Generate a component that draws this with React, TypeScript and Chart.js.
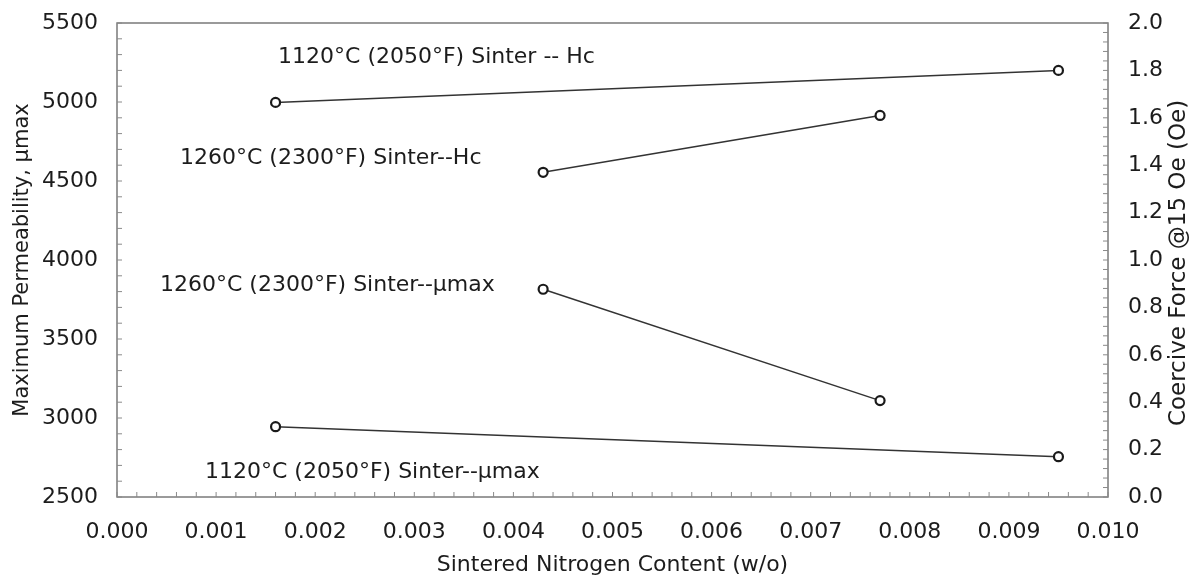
import React, { useEffect, useRef } from "react";
import { Chart, registerables } from "chart.js";

Chart.register(...registerables);

// ---- data ----
const nitrogen1120 = [0.0016, 0.0095];
const nitrogen1260 = [0.0043, 0.0077];
const hc1120 = [1.665, 1.8];
const hc1260 = [1.37, 1.61];
const mu1260 = [3815, 3110];
const mu1120 = [2945, 2755];

const xTicks = [0, 0.001, 0.002, 0.003, 0.004, 0.005, 0.006, 0.007, 0.008, 0.009, 0.01];
const leftTicks = [2500, 3000, 3500, 4000, 4500, 5000, 5500];
const rightTicks = [0, 0.2, 0.4, 0.6, 0.8, 1.0, 1.2, 1.4, 1.6, 1.8, 2.0];

const labelTexts = [
  "1120°C (2050°F) Sinter -- Hc",
  "1260°C (2300°F) Sinter--Hc",
  "1260°C (2300°F) Sinter--µmax",
  "1120°C (2050°F) Sinter--µmax",
];
// annotation anchors (x in w/o, y on left axis)
const labelX = [0.001625, 0.000636, 0.000434, 0.000888];
const labelY = [5285, 4646, 3842, 2658];

const rightTitle = "Coercive Force @15 Oe (Oe)";

const FONT = "'DejaVu Sans', 'Liberation Sans', Arial, sans-serif";
const TEXT = "#1c1c1c";

const zip = (xs: number[], ys: number[]) => xs.map((x, i) => ({ x, y: ys[i] }));

const noPad = (s: any) => {
  s.paddingTop = 0;
  s.paddingBottom = 0;
  s.paddingLeft = 0;
  s.paddingRight = 0;
};

const decorPlugin = {
  id: "decor",
  afterDatasetsDraw(chart: any) {
    const { ctx, chartArea: a, scales } = chart;
    ctx.save();
    // plot box
    ctx.strokeStyle = "#7a7a7a";
    ctx.lineWidth = 1.5;
    ctx.strokeRect(a.left, a.top, a.right - a.left, a.bottom - a.top);
    // inward minor ticks
    ctx.lineWidth = 1;
    ctx.strokeStyle = "#8a8a8a";
    const tl = 5;
    const x = scales.x;
    for (let i = 0; i <= 50; i++) {
      const px = x.getPixelForValue((x.max - x.min) * (i / 50) + x.min);
      ctx.beginPath();
      ctx.moveTo(px, a.bottom);
      ctx.lineTo(px, a.bottom - tl);
      ctx.stroke();
    }
    const y = scales.y;
    for (let i = 0; i <= 30; i++) {
      const py = y.getPixelForValue((y.max - y.min) * (i / 30) + y.min);
      ctx.beginPath();
      ctx.moveTo(a.left, py);
      ctx.lineTo(a.left + tl, py);
      ctx.stroke();
    }
    const y1 = scales.y1;
    for (let i = 0; i <= 50; i++) {
      const py = y1.getPixelForValue((y1.max - y1.min) * (i / 50) + y1.min);
      ctx.beginPath();
      ctx.moveTo(a.right, py);
      ctx.lineTo(a.right - tl, py);
      ctx.stroke();
    }
    // annotations
    ctx.fillStyle = TEXT;
    ctx.font = `22px ${FONT}`;
    ctx.textBaseline = "middle";
    ctx.textAlign = "left";
    labelTexts.forEach((t, i) => {
      ctx.fillText(t, x.getPixelForValue(labelX[i]), y.getPixelForValue(labelY[i]));
    });
    // right axis title (reads bottom-to-top)
    ctx.translate(y1.right - 8, (a.top + a.bottom) / 2 + 3);
    ctx.rotate(-Math.PI / 2);
    ctx.textAlign = "center";
    ctx.textBaseline = "alphabetic";
    ctx.font = `23px ${FONT}`;
    ctx.fillText(rightTitle, 0, 0);
    ctx.restore();
  },
};

export default function App() {
  const ref = useRef<HTMLCanvasElement | null>(null);
  useEffect(() => {
    if (!ref.current) return;
    const lineStyle = {
      borderColor: "#333",
      borderWidth: 1.5,
      pointRadius: 4.5,
      pointBorderWidth: 2.2,
      pointBackgroundColor: "#fff",
      pointBorderColor: "#1a1a1a",
      showLine: true,
      fill: false,
      tension: 0,
    };
    const chart = new Chart(ref.current, {
      type: "scatter",
      data: {
        datasets: [
          { label: labelTexts[0], data: zip(nitrogen1120, hc1120), yAxisID: "y1", ...lineStyle },
          { label: labelTexts[1], data: zip(nitrogen1260, hc1260), yAxisID: "y1", ...lineStyle },
          { label: labelTexts[2], data: zip(nitrogen1260, mu1260), yAxisID: "y", ...lineStyle },
          { label: labelTexts[3], data: zip(nitrogen1120, mu1120), yAxisID: "y", ...lineStyle },
        ],
      },
      options: {
        animation: false,
        responsive: true,
        maintainAspectRatio: false,
        layout: { padding: { top: 23, left: 0, right: 0, bottom: 0 } },
        plugins: { legend: { display: false }, tooltip: { enabled: false } },
        scales: {
          x: {
            type: "linear",
            min: 0,
            max: 0.01,
            afterBuildTicks: (s: any) => { s.ticks = xTicks.map((v) => ({ value: v })); },
            afterFit: (s: any) => { s.height = 82; noPad(s); },
            grid: { display: false, drawTicks: false },
            border: { display: false },
            ticks: {
              padding: 22,
              color: TEXT,
              font: { size: 22, family: FONT },
              callback: (v: any) => Number(v).toFixed(3),
              maxRotation: 0,
              autoSkip: false,
            },
            title: {
              display: true,
              text: "Sintered Nitrogen Content (w/o)",
              color: TEXT,
              font: { size: 22, family: FONT },
              padding: { top: 0, bottom: 1 },
            },
          },
          y: {
            type: "linear",
            position: "left",
            min: 2500,
            max: 5500,
            afterBuildTicks: (s: any) => { s.ticks = leftTicks.map((v) => ({ value: v })); },
            afterFit: (s: any) => { s.width = 117; noPad(s); },
            grid: { display: false, drawTicks: false },
            border: { display: false },
            ticks: {
              padding: 19,
              color: TEXT,
              font: { size: 22, family: FONT },
              callback: (v: any) => String(v),
              autoSkip: false,
            },
            title: {
              display: true,
              text: "Maximum Permeability, µmax",
              color: TEXT,
              font: { size: 21, family: FONT },
              padding: { top: 10, bottom: 0 },
            },
          },
          y1: {
            type: "linear",
            position: "right",
            min: 0,
            max: 2,
            afterBuildTicks: (s: any) => { s.ticks = rightTicks.map((v) => ({ value: v })); },
            afterFit: (s: any) => { s.width = 85; noPad(s); },
            grid: { display: false, drawTicks: false },
            border: { display: false },
            ticks: {
              padding: 20,
              color: TEXT,
              font: { size: 22, family: FONT },
              callback: (v: any) => Number(v).toFixed(1),
              autoSkip: false,
            },
            title: { display: false },
          },
        },
      },
      plugins: [decorPlugin],
    });
    return () => chart.destroy();
  }, []);
  return (
    <div style={{ position: "fixed", left: 0, top: 0, width: 1193, height: 579, background: "#fff" }}>
      <canvas ref={ref} />
    </div>
  );
}
